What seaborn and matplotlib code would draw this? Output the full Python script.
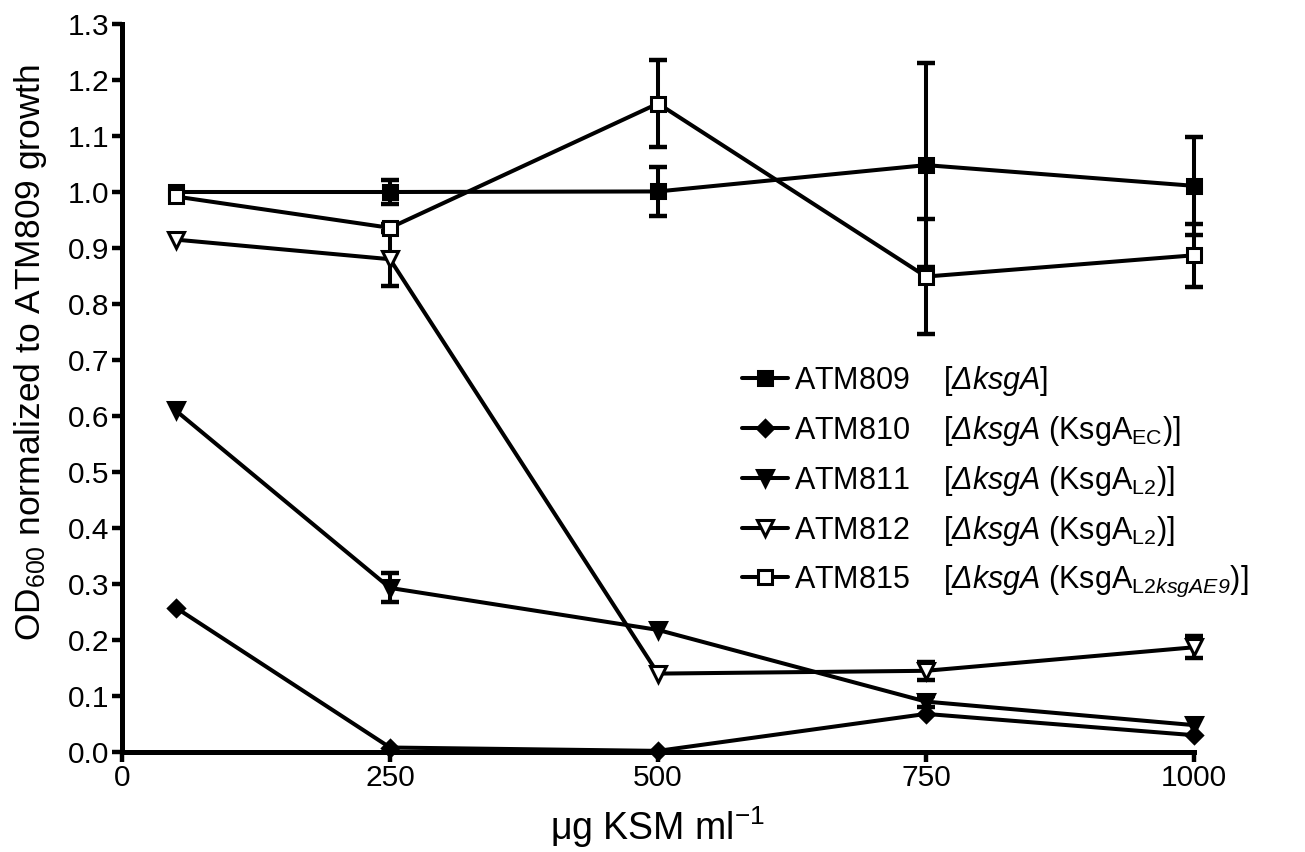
import numpy as np
import pandas as pd
import matplotlib
matplotlib.use("Agg")
import matplotlib.pyplot as plt
import seaborn as sns

# ---------------------------------------------------------------------------
# Data (OD600 normalised to ATM809 growth)
# ---------------------------------------------------------------------------
conc = [50, 250, 500, 750, 1000]

atm809 = [1.000, 1.000, 1.001, 1.048, 1.011]
atm809_err = [0.0, 0.022, 0.043, 0.182, 0.088]

atm810 = [0.258, 0.008, 0.002, 0.068, 0.030]
atm810_err = [0.0, 0.0, 0.0, 0.0, 0.0]

atm811 = [0.610, 0.293, 0.218, 0.090, 0.048]
atm811_err = [0.0, 0.026, 0.0, 0.010, 0.0]

atm812 = [0.915, 0.880, 0.140, 0.145, 0.187]
atm812_err = [0.0, 0.048, 0.0, 0.016, 0.020]

atm815 = [0.992, 0.936, 1.158, 0.849, 0.887]
atm815_err = [0.0, 0.006, 0.078, 0.103, 0.056]

labels = [
    r"ATM809    [$\mathsf{\Delta ksgA}$]",
    r"ATM810    [$\mathsf{\Delta ksgA}$ (KsgA$_{\mathrm{EC}}$)]",
    r"ATM811    [$\mathsf{\Delta ksgA}$ (KsgA$_{\mathrm{L2}}$)]",
    r"ATM812    [$\mathsf{\Delta ksgA}$ (KsgA$_{\mathrm{L2}}$)]",
    r"ATM815    [$\mathsf{\Delta ksgA}$ (KsgA$_{\mathrm{L2}\mathsf{ksgAE9}}$)]",
]

# ---------------------------------------------------------------------------
# Style
# ---------------------------------------------------------------------------
sns.set_theme(style="ticks")
plt.rcParams["font.family"] = ["Liberation Sans", "DejaVu Sans"]
plt.rcParams["text.color"] = "black"
plt.rcParams["axes.labelcolor"] = "black"
plt.rcParams["mathtext.fontset"] = "custom"
plt.rcParams["mathtext.rm"] = "Liberation Sans"
plt.rcParams["mathtext.it"] = "Liberation Sans:italic"
plt.rcParams["mathtext.sf"] = "Liberation Sans:italic"
plt.rcParams["mathtext.bf"] = "Liberation Sans:bold"

fig = plt.figure(figsize=(13.05, 8.52), dpi=100, facecolor="white")
ax = fig.add_axes([122 / 1305, 1 - 752 / 852, 1072 / 1305, 728 / 852])

LW = 2.9
series = [
    (atm809, atm809_err, "s", "black", 10),
    (atm810, atm810_err, "D", "black", 8),
    (atm811, atm811_err, "v", "black", 11),
    (atm812, atm812_err, "v", "white", 11),
    (atm815, atm815_err, "s", "white", 10),
]

for (vals, errs, mk, fc, ms), lab in zip(series, labels):
    df = pd.DataFrame({"conc": conc, "od": vals})
    sns.lineplot(data=df, x="conc", y="od", ax=ax, color="black", linewidth=LW,
                 marker=mk, markersize=ms, markerfacecolor=fc,
                 markeredgecolor="black", markeredgewidth=2.2,
                 label=lab, clip_on=False, zorder=3)
    # only the points that carry an error bar
    ex = [c for c, e in zip(conc, errs) if e > 0]
    ey = [v for v, e in zip(vals, errs) if e > 0]
    ee = [e for e in errs if e > 0]
    ax.errorbar(ex, ey, yerr=ee, fmt="none", ecolor="black", elinewidth=LW,
                capsize=6.5, capthick=3.2, zorder=2, clip_on=False)

ax.set_xlim(0, 1000)
ax.set_ylim(0, 1.3)
ax.set_xticks([0, 250, 500, 750, 1000])
ax.set_yticks(np.round(np.arange(0, 1.31, 0.1), 1))
ax.set_yticklabels([f"{v:.1f}" for v in np.arange(0, 1.31, 0.1)])

sns.despine(ax=ax)
for side in ["left", "bottom"]:
    ax.spines[side].set_linewidth(3.6)
    ax.spines[side].set_color("black")
ax.tick_params(axis="both", width=3.2, length=7, color="black",
               labelsize=21.5, labelcolor="black", pad=2, direction="out")

ax.set_xlabel("\u03bcg KSM ml$^{\\mathrm{-1}}$", fontsize=27, color="black")
ax.xaxis.label.set_verticalalignment("baseline")
ax.xaxis.set_label_coords(0.5, -(840 - 752) / 728)
ax.set_ylabel(r"OD$_{600}$ normalized to ATM809 growth", fontsize=25.5, color="black")
ax.yaxis.set_label_coords(-0.068, 0.549)

ax.get_legend().remove()
h, l = ax.get_legend_handles_labels()
fig.legend(h, l, loc="upper left", bbox_to_anchor=(742 / 1305, 1 - 364 / 852),
           frameon=False, fontsize=22, handlelength=1.5, handletextpad=0.2,
           labelspacing=0.52, borderaxespad=0, borderpad=0, labelcolor="black")

fig.savefig("out.png", dpi=100, facecolor="white")
